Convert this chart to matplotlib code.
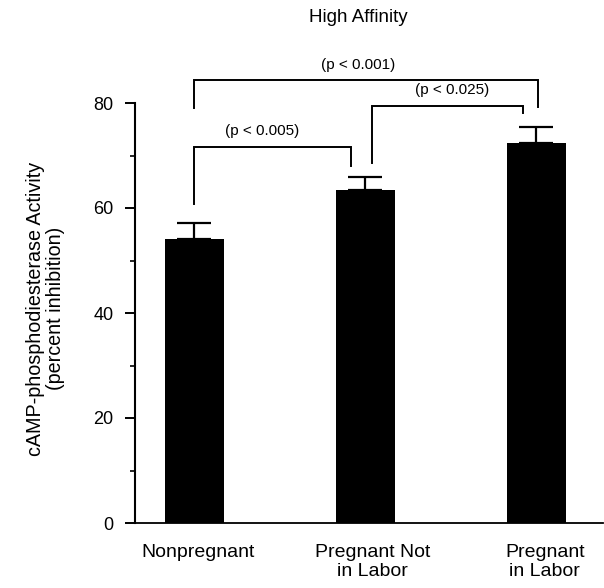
import matplotlib
matplotlib.use("Agg")
import matplotlib.pyplot as plt
from matplotlib.ticker import MultipleLocator
import matplotlib.transforms as mtransforms

plt.rcParams['font.family'] = ['Liberation Sans', 'DejaVu Sans']

# ---- data ----
categories = ["Nonpregnant", "Pregnant Not\nin Labor", "Pregnant\nin Labor"]
means = [54.1, 63.4, 72.4]
sem = [3.0, 2.5, 3.0]

# significance brackets: (x_left, x_right, y_left_bottom, y_top, y_right_bottom, label)
bracket_x_left = [0.0, 1.04, 0.0]
bracket_x_right = [0.92, 1.92, 2.01]
bracket_y_left = [60.8, 68.6, 79.0]
bracket_y_top = [71.6, 79.4, 84.4]
bracket_y_right = [68.0, 78.1, 79.2]
bracket_labels = ["(p < 0.005)", "(p < 0.025)", "(p < 0.001)"]
label_x = [0.40, 1.51, 0.96]
label_y = [74.6, 82.4, 87.3]

title = "High Affinity"
ylabel = "cAMP-phosphodiesterase Activity\n(percent inhibition)"

# ---- figure ----
W, H = 604, 588
fig = plt.figure(figsize=(W / 100, H / 100), dpi=100)
ax = fig.add_axes([135 / W, (H - 523) / H, (603 - 135) / W, (523 - 103) / H])

x = list(range(len(categories)))
ax.bar(x, means, width=0.345, color="black", zorder=2)
ax.errorbar(x, means, yerr=[[0] * len(sem), sem], fmt="none", ecolor="black",
            elinewidth=1.6, capsize=12, capthick=1.6, zorder=3)

ax.set_xlim(-0.345, 2.39)
ax.set_ylim(0, 80)
ax.yaxis.set_major_locator(MultipleLocator(20))
ax.yaxis.set_minor_locator(MultipleLocator(10))
ax.tick_params(axis="y", which="major", length=7.5, width=1.4, labelsize=13, pad=8)
ax.tick_params(axis="y", which="minor", length=3.8, width=1.2)
ax.set_xticks([])

for s in ["top", "right"]:
    ax.spines[s].set_visible(False)
ax.spines["left"].set_linewidth(1.5)
ax.spines["bottom"].set_linewidth(1.3)

# category labels
trans = mtransforms.blended_transform_factory(ax.transData, ax.transAxes)
label_offsets = [0.025, 0.045, 0.05]
for xi, cat, off in zip(x, categories, label_offsets):
    ax.text(xi + off, -0.05, cat, transform=trans, ha="center", va="top",
            fontsize=14, linespacing=1.15)

# brackets
for xl, xr, yl, yt, yr, lab, lx, ly in zip(bracket_x_left, bracket_x_right,
                                            bracket_y_left, bracket_y_top,
                                            bracket_y_right, bracket_labels,
                                            label_x, label_y):
    ax.plot([xl, xl, xr, xr], [yl, yt, yt, yr], color="black", lw=1.4,
            clip_on=False, solid_joinstyle="miter")
    ax.text(lx, ly, lab, ha="center", va="center", fontsize=11)

ax.set_ylabel(ylabel, fontsize=14.2, linespacing=1.05)
ax.yaxis.set_label_coords(-0.15, 0.51)

fig.text(358 / W, 1 - 17 / H, title, ha="center", va="center", fontsize=13.5)

fig.savefig("out.png", dpi=100)
